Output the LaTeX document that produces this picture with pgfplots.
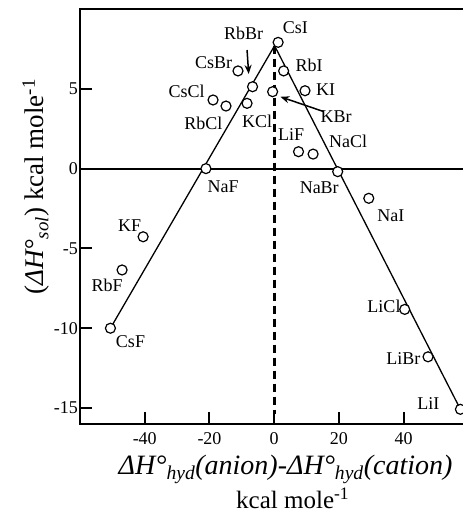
\documentclass[border=0pt]{standalone}
\usepackage{fontspec}
\setmainfont{Liberation Serif}
\usepackage{pgfplots}
\pgfplotsset{compat=1.18}
\usetikzlibrary{arrows.meta}

\newcommand{\lab}{\fontsize{18}{21}\selectfont}
\newcommand{\ticklab}{\fontsize{18}{21}\selectfont}

\begin{document}
\begin{tikzpicture}
\begin{axis}[
  scale only axis,
  width=383pt, height=415pt,
  xmin=-60, xmax=58.3,
  ymin=-16, ymax=10,
  clip=false,
  axis line style={draw=none},
  xtick={-40,-20,0,20,40},
  ytick={-15,-10,-5,0,5},
  tick pos=left,
  tick align=inside,
  major tick length=12pt,
  tick style={line width=2pt, black},
  /pgf/number format/assume math mode=true,
  tick label style={font=\ticklab, inner sep=1pt},
  xticklabel style={yshift=-7pt},
  yticklabel style={xshift=-1pt},
]
  \coordinate (sw) at (rel axis cs:0,0);

  % zero reference line
  \addplot[line width=2pt, black] coordinates {(-60,0) (58.3,0)};
  % vertical dashed line at zero difference
  \addplot[line width=3pt, black, dash pattern=on 8pt off 5pt]
    coordinates {(0,7.7) (0,-15.4)};
  % the two branches of the V
  \addplot[line width=1.3pt, black]
    coordinates {(-50.6,-10.0) (0.1,7.7) (57.5,-15.08)};

  % alkali halides
  \addplot[only marks, mark=*, mark size=5pt,
    mark options={fill=white, draw=black, line width=1.2pt}]
    table {
      x      y
      1.2    7.91
     -6.7    5.13
    -11.2    6.12
      2.9    6.12
     -0.5    4.82
      9.5    4.88
    -18.9    4.30
    -14.9    3.92
     -8.4    4.09
      7.5    1.06
     12.0    0.91
    -21.1    0.00
    -40.5   -4.27
    -47.0   -6.35
    -50.6  -10.00
     19.6   -0.19
     29.2   -1.86
     40.3   -8.82
     47.5  -11.79
     57.5  -15.08
    };

  % compound names
  \begin{scope}[every node/.style={font=\lab, inner sep=0pt}]
    \node at (axis cs:6.5,8.84)    {CsI};
    \node at (axis cs:-9.45,8.5)   {RbBr};
    \node at (axis cs:-18.7,6.62)  {CsBr};
    \node at (axis cs:10.8,6.5)    {RbI};
    \node at (axis cs:15.9,4.94)   {KI};
    \node at (axis cs:19.1,3.27)   {KBr};
    \node at (axis cs:-27.1,4.84)  {CsCl};
    \node at (axis cs:-21.9,2.86)  {RbCl};
    \node at (axis cs:-5.3,2.96)   {KCl};
    \node at (axis cs:5.2,2.13)    {LiF};
    \node at (axis cs:22.8,1.69)   {NaCl};
    \node at (axis cs:-15.8,-1.11) {NaF};
    \node at (axis cs:-44.7,-3.57) {KF};
    \node at (axis cs:-51.6,-7.33) {RbF};
    \node at (axis cs:-44.4,-10.82){CsF};
    \node at (axis cs:13.9,-1.21)  {NaBr};
    \node at (axis cs:36.0,-2.94)  {NaI};
    \node at (axis cs:33.9,-8.63)  {LiCl};
    \node at (axis cs:39.9,-11.93) {LiBr};
    \node at (axis cs:47.6,-14.69) {LiI};
  \end{scope}

  % pointer arrows
  \draw[line width=1.5pt, -{Stealth[length=9pt, width=7pt]}]
    (axis cs:-8.4,7.43) -- (axis cs:-7.9,5.93);
  \draw[line width=1.5pt, -{Stealth[length=9pt, width=7pt]}]
    (axis cs:15.3,3.57) -- (axis cs:1.9,4.5);

  % axis titles
  \node[rotate=90, font=\fontsize{27}{31}\selectfont] at (axis cs:-73.6,-1.13)
    {(\textit{ΔH°}\textsubscript{\textit{sol}}) kcal mole\textsuperscript{-1}};
  \node[font=\fontsize{28}{32}\selectfont, inner sep=0pt] at (axis cs:3.5,-18.85)
    {\textit{ΔH°}\textsubscript{\textit{hyd}}\textit{(anion)-ΔH°}\textsubscript{\textit{hyd}}\textit{(cation)}};
  \node[font=\fontsize{25}{29}\selectfont, inner sep=0pt] at (axis cs:5.7,-20.68)
    {kcal mole\textsuperscript{-1}};

  % frame: top, left and bottom sides
  \draw[line width=2.4pt, line cap=rect]
    (rel axis cs:1,1) -- (rel axis cs:0,1) -- (rel axis cs:0,0) -- (rel axis cs:1,0);
\end{axis}
\pgfresetboundingbox
\path (sw) ++(-80pt,-90pt) rectangle ++(463pt,514pt);
\end{tikzpicture}
\end{document}
